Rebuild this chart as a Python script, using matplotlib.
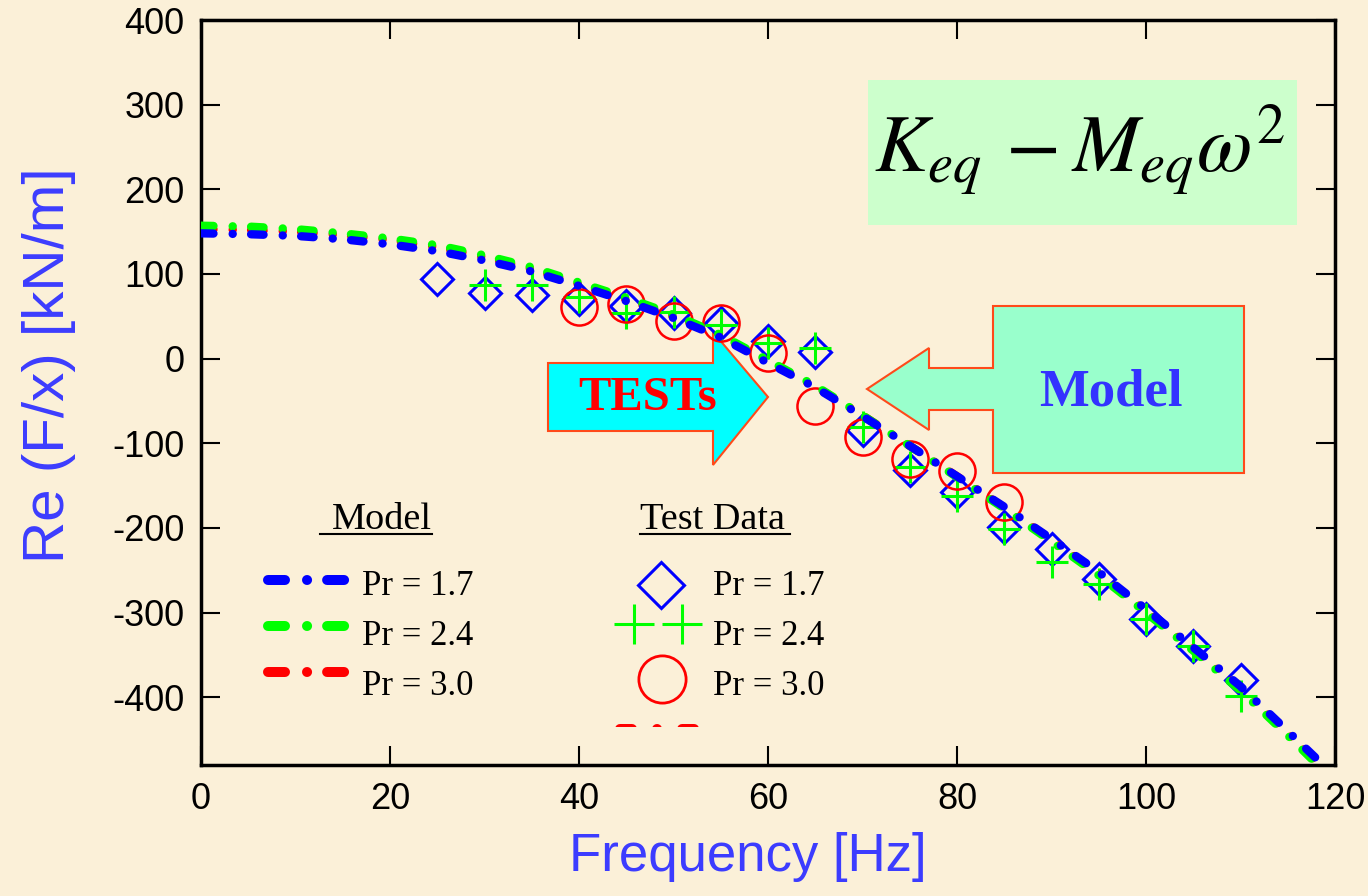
import matplotlib
matplotlib.use('Agg')
import matplotlib.pyplot as plt
from matplotlib.patches import Polygon, Rectangle
from matplotlib.lines import Line2D

# figure size in pixels (reference picture)
W, H = 1368, 896

# model curves Re(F/x) [kN/m]
freq = [0, 5, 10, 15, 20, 25, 30, 35, 40, 45, 50, 55, 60, 65, 70, 75, 80, 85,
        90, 95, 100, 105, 110, 115, 118]
model_17 = [148, 147, 145, 141, 135, 127, 116, 103, 86, 68, 48, 25, -5, -34,
            -68, -103, -139, -175, -213, -252, -296, -341, -387, -440, -472]
model_24 = [157, 156, 153, 148, 142, 134, 122, 108, 90, 72, 52, 28, -2, -32,
            -67, -103, -140, -177, -216, -256, -300, -345, -392, -445, -478]
model_30 = [153, 152, 150, 146, 140, 132, 120, 106, 88, 70, 50, 27, -3, -33,
            -67, -103, -139, -176, -214, -254, -298, -343, -390, -443, -476]

# test data
test_f_17 = [25, 30, 35, 40, 45, 50, 55, 60, 65, 70, 75, 80, 85, 90, 95, 100,
             105, 110]
test_17 = [94, 78, 75, 71, 62, 54, 42, 21, 8, -84, -131, -157, -199, -225,
           -260, -307, -340, -380]
test_f_24 = [30, 35, 40, 45, 50, 55, 60, 65, 70, 75, 80, 85, 90, 95, 100, 105,
             110]
test_24 = [87, 87, 73, 54, 55, 40, 19, 13, -81, -128, -162, -201, -240, -266,
           -307, -339, -398]
test_f_30 = [40, 45, 50, 55, 60, 65, 70, 75, 80, 85]
test_30 = [61, 64, 44, 42, 7, -56, -92, -119, -133, -169]

labels = ['Pr = 1.7', 'Pr = 2.4', 'Pr = 3.0']
colors = ['#0000FF', '#00FF00', '#FF0000']

plt.rcParams['font.family'] = 'Liberation Sans'
plt.rcParams['mathtext.fontset'] = 'stix'
plt.rcParams['axes.unicode_minus'] = False

bg = '#FBF0D8'
lblue = '#3C3CFF'
edge = '#FF4A1A'

fig = plt.figure(figsize=(W / 100, H / 100), dpi=100)
fig.patch.set_facecolor(bg)
ax = fig.add_axes([201 / W, 1 - 765 / H, (1335 - 201) / W, (765 - 20) / H])
ax.set_facecolor('none')


def fx(x):
    return x / W


def fy(y):
    return 1 - y / H


# annotations behind the data
tests_arrow = [(548, 363), (713, 363), (713, 332), (768, 397), (713, 465),
               (713, 431), (548, 431)]
ax.add_patch(Polygon([(fx(x), fy(y)) for x, y in tests_arrow], closed=True,
                     transform=fig.transFigure, facecolor='#00FFFF',
                     edgecolor=edge, lw=1.5, zorder=1, clip_on=False))
model_call = [(993, 306), (1244, 306), (1244, 473), (993, 473), (993, 410),
              (929, 410), (929, 430), (867, 389), (929, 348), (929, 368),
              (993, 368)]
ax.add_patch(Polygon([(fx(x), fy(y)) for x, y in model_call], closed=True,
                     transform=fig.transFigure, facecolor='#99FFCC',
                     edgecolor=edge, lw=1.5, zorder=1, clip_on=False))
ax.add_patch(Rectangle((fx(868), fy(225)), (1297 - 868) / W, 145 / H,
                       transform=fig.transFigure, facecolor='#CCFFCC',
                       edgecolor='none', zorder=1, clip_on=False))

fig.text(fx(648), fy(398), 'TESTs', color='#FF0000', fontsize=35,
         fontweight='bold', family='Liberation Serif', ha='center', va='center')
fig.text(fx(1111), fy(392), 'Model', color='#3333FF', fontsize=38,
         fontweight='bold', family='Liberation Serif', ha='center', va='center')
fig.text(fx(1080), fy(150), r'$K_{eq}\,-M_{eq}\omega^2$', fontsize=58,
         ha='center', va='center')

# test points
ax.plot(test_f_17, test_17, ls='none', marker='D', ms=16, mfc='none',
        mec=colors[0], mew=2.2, zorder=3)
ax.plot(test_f_24, test_24, ls='none', marker='+', ms=23, mec=colors[1],
        mew=2.2, zorder=3)
ax.plot(test_f_30, test_30, ls='none', marker='o', ms=26, mfc='none',
        mec=colors[2], mew=1.8, zorder=3)

# model curves
dd = [1.5, 2.3, 0.01, 2.2]
for vals, c in zip([model_30, model_24, model_17], [colors[2], colors[1], colors[0]]):
    ax.plot(freq, vals, color=c, lw=6, dashes=dd, dash_capstyle='round',
            solid_capstyle='round', zorder=4)

ax.set_xlim(0, 120)
ax.set_ylim(-480, 400)
ax.set_xticks(range(0, 121, 20))
ax.set_yticks(range(-400, 401, 100))
ax.tick_params(direction='in', length=14, width=1.5, top=True, right=True,
               labelsize=26, pad=12)
for s in ax.spines.values():
    s.set_linewidth(2.5)

ax.set_xlabel('Frequency [Hz]', color=lblue, fontsize=38)
ax.xaxis.set_label_coords(0.482, -0.09)
ax.set_ylabel('Re (F/x) [kN/m]', color=lblue, fontsize=42)
ax.yaxis.set_label_coords(-0.11, 0.536)

# hand-made legend
serif = 'Liberation Serif'
fig.text(fx(382), fy(529), 'Model', fontsize=27.5, family=serif, ha='center',
         va='baseline')
fig.add_artist(Line2D([fx(320), fx(432)], [fy(534), fy(534)], color='black',
                      lw=1.5, transform=fig.transFigure))
fig.text(fx(640), fy(529), 'Test Data', fontsize=27.5, family=serif, ha='left',
         va='baseline')
fig.add_artist(Line2D([fx(640), fx(790)], [fy(534), fy(534)], color='black',
                      lw=1.5, transform=fig.transFigure))

row_line = [580, 626, 672]
row_text = [595, 645, 695]
for c, yl, yt, lab in zip(colors, row_line, row_text, labels):
    fig.add_artist(Line2D([fx(268), fx(348)], [fy(yl), fy(yl)], color=c,
                          lw=7.2, dashes=[1.7, 2.2, 0.01, 2.0],
                          dash_capstyle='round', transform=fig.transFigure))
    fig.text(fx(362), fy(yt), lab, fontsize=25, family=serif, va='baseline')
    fig.text(fx(713), fy(yt), lab, fontsize=25, family=serif, va='baseline')

fig.add_artist(Line2D([fx(661)], [fy(585)], ls='none', marker='D', ms=23,
                      mfc='none', mec=colors[0], mew=2.2,
                      transform=fig.transFigure))
fig.add_artist(Line2D([fx(634), fx(682)], [fy(624), fy(624)], ls='none',
                      marker='+', ms=29, mec=colors[1], mew=2.2,
                      transform=fig.transFigure))
fig.add_artist(Line2D([fx(662)], [fy(679)], ls='none', marker='o', ms=34,
                      mfc='none', mec=colors[2], mew=2.0,
                      transform=fig.transFigure))

# clipped red legend remnant at the bottom
stub = Line2D([fx(620), fx(698)], [fy(729), fy(729)], color=colors[2], lw=7.2,
              dashes=[1.2, 2.5, 0.01, 2.5], dash_capstyle='round',
              transform=fig.transFigure)
clip = Rectangle((fx(600), fy(727)), 120 / W, 12 / H, transform=fig.transFigure)
stub.set_clip_path(clip)
fig.add_artist(stub)

fig.savefig('out.png', dpi=100, facecolor=bg)
